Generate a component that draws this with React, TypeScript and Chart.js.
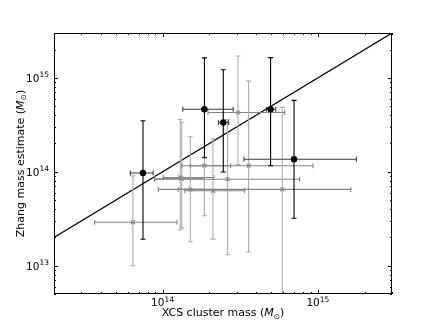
import React, { useEffect, useRef } from "react";
import { Chart, registerables } from "chart.js";
Chart.register(...registerables);

// ---- data ----
const blackX = [7.48e13, 1.86e14, 2.46e14, 4.96e14, 7.02e14];
const blackY = [9.7e13, 4.63e14, 3.34e14, 4.63e14, 1.36e14];
const blackXLo = [6.2e13, 1.35e14, 2.29e14, 4.66e14, 3.34e14];
const blackXHi = [8.7e13, 2.85e14, 2.66e14, 5.35e14, 1.77e15];
const blackYLo = [1.91e13, 1.41e14, 9.96e13, 1.16e14, 3.2e13];
const blackYHi = [3.49e14, 1.63e15, 1.22e15, 1.64e15, 5.75e14];

const grayX = [6.44e13, 1.3e14, 1.33e14, 1.51e14, 1.86e14, 2.11e14, 2.62e14, 3.06e14, 3.58e14, 5.9e14];
const grayY = [2.9e13, 8.69e13, 8.43e13, 6.49e13, 1.16e14, 6.27e13, 8.34e13, 4.27e14, 1.16e14, 6.49e13];
const grayXLo = [3.65e13, 1.01e14, 8.88e13, 1.26e14, 1.33e14, 1.39e14, 8.88e13, 1.96e14, 1.51e14, 9.38e13];
const grayXHi = [1.24e14, 2.14e14, 1.86e14, 1.86e14, 2.74e14, 3.37e14, 7.62e14, 6.11e14, 9.3e14, 1.63e15];
const grayYLo = [1.0e13, 2.4e13, 2.51e13, 1.8e13, 3.4e13, 1.92e13, 1.31e13, 1.19e14, 1.4e13, 1e12];
const grayYHi = [9.05e13, 3.6e14, 3.37e14, 2.36e14, 1.42e14, 2.24e14, 3.6e14, 1.71e15, 9.23e14, 4.85e14];

const oneToOne = [2e13, 3e15];

const xMin = 2e13, xMax = 3e15;
const yMin = 5e12, yMax = 3e15;
const xTickExps = [14, 15];
const yTickExps = [13, 14, 15];
const xTitle = "XCS cluster mass (";
const yTitle = "Zhang mass estimate (";

const FONT = "DejaVu Sans";

function minorTicks(min: number, max: number): number[] {
  const out: number[] = [];
  const lo = Math.floor(Math.log10(min));
  const hi = Math.ceil(Math.log10(max));
  for (let e = lo; e <= hi; e++) {
    for (let m = 1; m <= 9; m++) {
      const v = m * Math.pow(10, e);
      if (v >= min * 0.999 && v <= max * 1.001) out.push(v);
    }
  }
  return out;
}

type Part = { text: string; font: string; dy: number };

function drawRich(ctx: CanvasRenderingContext2D, parts: Part[], x: number, y: number, align: "center" | "right") {
  let total = 0;
  const widths = parts.map((p) => {
    ctx.font = p.font;
    const w = ctx.measureText(p.text).width;
    total += w;
    return w;
  });
  let cx = align === "center" ? x - total / 2 : x - total;
  ctx.textAlign = "left";
  ctx.textBaseline = "alphabetic";
  parts.forEach((p, i) => {
    ctx.font = p.font;
    ctx.fillText(p.text, cx, y + p.dy);
    cx += widths[i];
  });
}

function powParts(exp: number): Part[] {
  return [
    { text: "10", font: `10.5px '${FONT}'`, dy: 0 },
    { text: String(exp), font: `7.5px '${FONT}'`, dy: -4.5 },
  ];
}

function titleParts(t: string): Part[] {
  return [
    { text: t, font: `11px '${FONT}'`, dy: 0 },
    { text: "M", font: `italic 11px '${FONT}'`, dy: 0 },
    { text: "\u2299", font: `7.5px '${FONT}'`, dy: 2.5 },
    { text: ")", font: `11px '${FONT}'`, dy: 0 },
  ];
}

const errorBarPlugin = {
  id: "errorBars",
  beforeDatasetDraw(chart: any, args: any) {
    const ds = chart.data.datasets[args.index];
    if (!ds.err) return;
    const { ctx, chartArea } = chart;
    const xs = chart.scales.x;
    const ys = chart.scales.y;
    const e = ds.err;
    ctx.save();
    ctx.beginPath();
    ctx.rect(chartArea.left, chartArea.top, chartArea.right - chartArea.left, chartArea.bottom - chartArea.top);
    ctx.clip();
    ctx.lineWidth = 1.1;
    const cap = e.cap;
    for (let i = 0; i < e.x.length; i++) {
      const px = xs.getPixelForValue(e.x[i]);
      const py = ys.getPixelForValue(e.y[i]);
      const xl = xs.getPixelForValue(e.xLo[i]);
      const xh = xs.getPixelForValue(e.xHi[i]);
      const yl = ys.getPixelForValue(e.yLo[i]);
      const yh = ys.getPixelForValue(e.yHi[i]);
      // x error
      ctx.strokeStyle = e.xColor;
      ctx.beginPath();
      ctx.moveTo(xl, py);
      ctx.lineTo(xh, py);
      ctx.moveTo(xl, py - cap);
      ctx.lineTo(xl, py + cap);
      ctx.moveTo(xh, py - cap);
      ctx.lineTo(xh, py + cap);
      ctx.stroke();
      // y error
      ctx.strokeStyle = e.yColor;
      ctx.beginPath();
      ctx.moveTo(px, yl);
      ctx.lineTo(px, yh);
      ctx.moveTo(px - cap, yl);
      ctx.lineTo(px + cap, yl);
      ctx.moveTo(px - cap, yh);
      ctx.lineTo(px + cap, yh);
      ctx.stroke();
    }
    ctx.restore();
  },
};

const framePlugin = {
  id: "frameAxes",
  afterDraw(chart: any) {
    const { ctx, chartArea } = chart;
    const xs = chart.scales.x;
    const ys = chart.scales.y;
    const L = chartArea.left, R = chartArea.right, T = chartArea.top, B = chartArea.bottom;
    ctx.save();
    ctx.strokeStyle = "#000";
    ctx.lineWidth = 1;
    const xMaj = xTickExps.map((e) => Math.pow(10, e));
    const yMaj = yTickExps.map((e) => Math.pow(10, e));
    ctx.beginPath();
    minorTicks(xMin, xMax).forEach((v) => {
      const isMaj = xMaj.some((m) => Math.abs(m - v) / m < 1e-6);
      const len = isMaj ? 4 : 2;
      const px = Math.round(xs.getPixelForValue(v)) + 0.5;
      ctx.moveTo(px, B);
      ctx.lineTo(px, B - len);
      ctx.moveTo(px, T);
      ctx.lineTo(px, T + len);
    });
    minorTicks(yMin, yMax).forEach((v) => {
      const isMaj = yMaj.some((m) => Math.abs(m - v) / m < 1e-6);
      const len = isMaj ? 4 : 2;
      const py = Math.round(ys.getPixelForValue(v)) + 0.5;
      ctx.moveTo(L, py);
      ctx.lineTo(L + len, py);
      ctx.moveTo(R, py);
      ctx.lineTo(R - len, py);
    });
    ctx.stroke();
    ctx.strokeRect(L + 0.5, T + 0.5, R - L - 1, B - T - 1);
    ctx.fillStyle = "#000";
    xTickExps.forEach((e) => {
      const px = xs.getPixelForValue(Math.pow(10, e));
      drawRich(ctx, powParts(e), px, B + 12, "center");
    });
    yTickExps.forEach((e) => {
      const py = ys.getPixelForValue(Math.pow(10, e));
      drawRich(ctx, powParts(e), L - 5, py + 4, "right");
    });
    drawRich(ctx, titleParts(xTitle), (L + R) / 2, 316, "center");
    ctx.save();
    ctx.translate(23.5, (T + B) / 2);
    ctx.rotate(-Math.PI / 2);
    drawRich(ctx, titleParts(yTitle), 0, 0, "center");
    ctx.restore();
    ctx.restore();
  },
};

export default function App() {
  const ref = useRef<HTMLCanvasElement | null>(null);
  useEffect(() => {
    if (!ref.current) return;
    const chart = new Chart(ref.current, {
      type: "scatter",
      data: {
        datasets: [
          {
            label: "black",
            data: blackX.map((x, i) => ({ x, y: blackY[i] })),
            pointStyle: "circle",
            pointRadius: 3.2,
            backgroundColor: "#000",
            borderColor: "#000",
            borderWidth: 0,
            err: { x: blackX, y: blackY, xLo: blackXLo, xHi: blackXHi, yLo: blackYLo, yHi: blackYHi, xColor: "#3c3c3c", yColor: "#000", cap: 2.5 },
          } as any,
          {
            label: "gray",
            data: grayX.map((x, i) => ({ x, y: grayY[i] })),
            pointStyle: "crossRot",
            pointRadius: 2.8,
            borderColor: "#8c8c8c",
            backgroundColor: "#8c8c8c",
            borderWidth: 1.2,
            err: { x: grayX, y: grayY, xLo: grayXLo, xHi: grayXHi, yLo: grayYLo, yHi: grayYHi, xColor: "#838383", yColor: "#acacac", cap: 2.5 },
          } as any,
          {
            label: "1:1",
            type: "line",
            data: oneToOne.map((v) => ({ x: v, y: v })),
            borderColor: "#000",
            borderWidth: 1.2,
            pointRadius: 0,
            fill: false,
          } as any,
        ],
      },
      options: {
        animation: false,
        responsive: false,
        layout: { padding: { left: 54, right: 44, top: 33, bottom: 33 } },
        plugins: { legend: { display: false }, tooltip: { enabled: false } },
        scales: {
          x: { type: "logarithmic", min: xMin, max: xMax, display: false },
          y: { type: "logarithmic", min: yMin, max: yMax, display: false },
        },
      },
      plugins: [errorBarPlugin, framePlugin],
    });
    return () => chart.destroy();
  }, []);
  return (
    <div style={{ position: "absolute", left: 0, top: 0, width: 436, height: 327, background: "#fff" }}>
      <canvas ref={ref} width={436} height={327} style={{ display: "block" }} />
    </div>
  );
}
